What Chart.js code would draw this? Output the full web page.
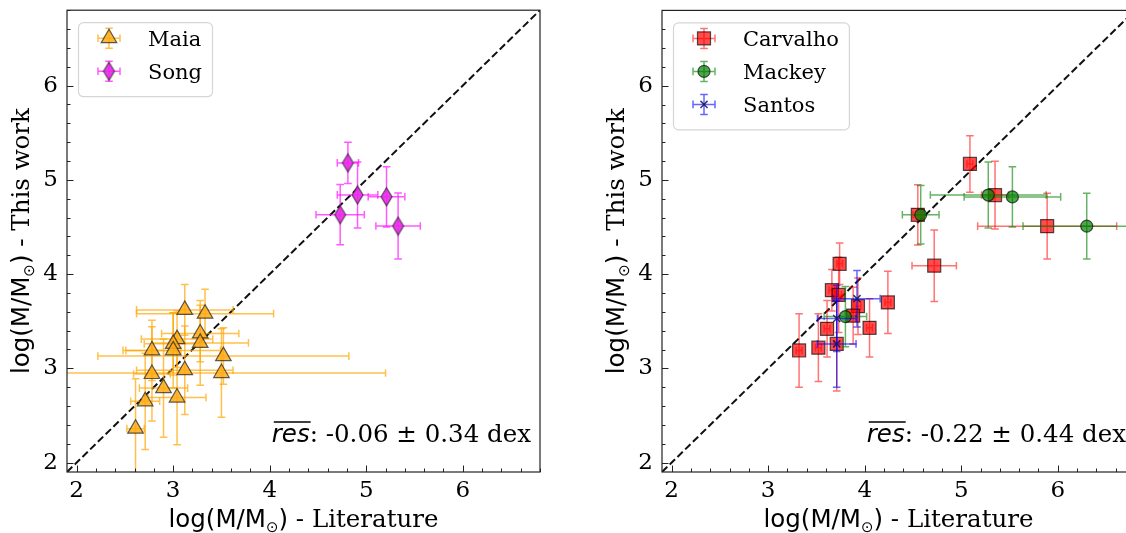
<!DOCTYPE html>
<html>
<head>
<meta charset="utf-8">
<script src="https://cdn.jsdelivr.net/npm/chart.js@4/dist/chart.umd.min.js"></script>
<style>
  html, body { margin: 0; padding: 0; background: #fff; overflow: hidden; width: 1126px; height: 533px; }
  .panel { position: absolute; top: 0; width: 560px; height: 533px; }
</style>
</head>
<body>
<div class="panel" style="left:0"><canvas id="leftChart" width="560" height="533"></canvas></div>
<div class="panel" style="left:595px"><canvas id="rightChart" width="560" height="533"></canvas></div>
<script>
// axis setup
const tickValues = [2, 3, 4, 5, 6];
const axisMin = 1.9, axisMax = 6.8;

// left panel: Maia
const maiaX    = [3.12, 3.33, 3.28, 3.28, 3.04, 3.00, 3.00, 2.78, 3.52, 2.78, 3.12, 3.50, 2.90, 2.71, 3.04, 2.61];
const maiaY    = [3.62, 3.58, 3.37, 3.27, 3.31, 3.26, 3.19, 3.19, 3.13, 2.94, 2.98, 2.95, 2.79, 2.65, 2.69, 2.36];
const maiaXerr = [0.50, 0.71, 0.40, 0.50, 0.37, 0.30, 0.49, 0.30, 1.30, 0.19, 0.50, 1.70, 0.25, 0.15, 0.30, 0.09];
const maiaYerr = [0.27, 0.26, 0.30, 0.45, 0.30, 0.33, 0.40, 0.32, 0.30, 0.50, 0.47, 0.47, 0.52, 0.51, 0.50, 0.53];

// left panel: Song
const songX    = [4.81, 4.91, 4.73, 5.21, 5.33];
const songY    = [5.18, 4.84, 4.63, 4.82, 4.51];
const songXerr = [0.11, 0.21, 0.25, 0.19, 0.23];
const songYerr = [0.22, 0.35, 0.32, 0.32, 0.35];

// right panel: Carvalho
const carvalhoX    = [5.09, 5.35, 4.55, 5.89, 4.72, 4.24, 3.74, 3.66, 3.73, 3.93, 3.88, 3.61, 4.05, 3.32, 3.52, 3.71];
const carvalhoY    = [5.17, 4.84, 4.63, 4.51, 4.09, 3.70, 4.11, 3.83, 3.78, 3.66, 3.56, 3.42, 3.43, 3.19, 3.22, 3.26];
const carvalhoXerr = [0.03, 0.14, 0.05, 0.72, 0.23, 0.03, 0.03, 0.03, 0.03, 0.03, 0.03, 0.03, 0.03, 0.03, 0.03, 0.03];
const carvalhoYerr = [0.30, 0.36, 0.32, 0.35, 0.38, 0.33, 0.22, 0.22, 0.40, 0.30, 0.30, 0.30, 0.31, 0.39, 0.36, 0.50];

// right panel: Mackey
const mackeyX    = [4.58, 5.28, 5.53, 6.30, 3.80];
const mackeyY    = [4.63, 4.84, 4.82, 4.51, 3.55];
const mackeyXerr = [0.19, 0.60, 0.50, 0.66, 0.22];
const mackeyYerr = [0.31, 0.35, 0.32, 0.35, 0.32];

// right panel: Santos
const santosX    = [3.92, 3.71, 3.71];
const santosY    = [3.74, 3.53, 3.26];
const santosXerr = [0.24, 0.20, 0.20];
const santosYerr = [0.30, 0.35, 0.46];

const leftRes = ': -0.06 \u00b1 0.34 dex';
const rightRes = ': -0.22 \u00b1 0.44 dex';

const SERIF = '"DejaVu Serif", serif';
const SANS = '"DejaVu Sans", sans-serif';

function pts(xs, ys) {
  return xs.map((x, i) => ({ x: x, y: ys[i] }));
}

// matplotlib-like thin diamond marker
function thinDiamond(fill, edge) {
  const c = document.createElement('canvas');
  c.width = 15; c.height = 21;
  const g = c.getContext('2d');
  g.beginPath();
  g.moveTo(7.5, 1.5); g.lineTo(13, 10.5); g.lineTo(7.5, 19.5); g.lineTo(2, 10.5);
  g.closePath();
  g.fillStyle = fill; g.fill();
  g.lineWidth = 1.2; g.strokeStyle = edge; g.stroke();
  return c;
}

function series(label, xs, ys, xerr, yerr, st) {
  return {
    type: 'scatter', label: label, data: pts(xs, ys),
    errX: xerr, errY: yerr, errColor: st.err,
    pointStyle: st.style, pointRadius: st.r, pointHoverRadius: st.r,
    backgroundColor: st.fill, borderColor: st.edge, borderWidth: st.bw || 1.2,
    order: st.order
  };
}

function drawBars(ctx, px, x0, x1, py, y0, y1, cap) {
  ctx.beginPath();
  ctx.moveTo(x0, py); ctx.lineTo(x1, py);
  ctx.moveTo(px, y0); ctx.lineTo(px, y1);
  ctx.moveTo(x0, py - cap); ctx.lineTo(x0, py + cap);
  ctx.moveTo(x1, py - cap); ctx.lineTo(x1, py + cap);
  ctx.moveTo(px - cap, y0); ctx.lineTo(px + cap, y0);
  ctx.moveTo(px - cap, y1); ctx.lineTo(px + cap, y1);
  ctx.stroke();
}

// error bars drawn just before each series' markers
const errorBars = {
  id: 'errorBars',
  beforeDatasetDraw(chart, args) {
    const ds = chart.data.datasets[args.index];
    if (!ds.errX) return;
    const ctx = chart.ctx, a = chart.chartArea;
    const xs = chart.scales.x, ys = chart.scales.y;
    ctx.save();
    ctx.beginPath(); ctx.rect(a.left, a.top, a.width, a.height); ctx.clip();
    ctx.strokeStyle = ds.errColor;
    ctx.lineWidth = 1.5;
    ds.data.forEach((p, i) => {
      drawBars(ctx,
        xs.getPixelForValue(p.x), xs.getPixelForValue(p.x - ds.errX[i]), xs.getPixelForValue(p.x + ds.errX[i]),
        ys.getPixelForValue(p.y), ys.getPixelForValue(p.y - ds.errY[i]), ys.getPixelForValue(p.y + ds.errY[i]), 3.8);
    });
    ctx.restore();
  }
};

// frame + inward ticks (left and bottom)
const frame = {
  id: 'frame',
  afterDatasetsDraw(chart) {
    const ctx = chart.ctx, a = chart.chartArea;
    const xs = chart.scales.x, ys = chart.scales.y;
    ctx.save();
    ctx.strokeStyle = '#222';
    ctx.lineWidth = 1.2;
    ctx.strokeRect(a.left, a.top, a.width, a.height);
    ctx.lineWidth = 1;
    ctx.beginPath();
    for (let k = 20; k <= 68; k += 2) {
      const v = k / 10;
      const len = (k % 10 === 0) ? 6.5 : 3.5;
      const px = Math.round(xs.getPixelForValue(v)) + 0.5;
      const py = Math.round(ys.getPixelForValue(v)) + 0.5;
      ctx.moveTo(px, a.bottom); ctx.lineTo(px, a.bottom - len);
      ctx.moveTo(a.left, py); ctx.lineTo(a.left + len, py);
    }
    ctx.stroke();
    ctx.restore();
  }
};

function drawParts(ctx, parts, x, y, align) {
  let w = 0;
  parts.forEach(p => { ctx.font = p.font; p.w = ctx.measureText(p.t).width; w += p.w; });
  let cx = align === 'center' ? x - w / 2 : (align === 'right' ? x - w : x);
  ctx.textAlign = 'left';
  ctx.textBaseline = 'alphabetic';
  parts.forEach(p => {
    ctx.font = p.font;
    ctx.fillText(p.t, cx, y + (p.dy || 0));
    if (p.over) {
      ctx.beginPath();
      ctx.lineWidth = 1.4;
      ctx.moveTo(cx + 2, y - 20); ctx.lineTo(cx + p.w + 1, y - 20);
      ctx.stroke();
    }
    cx += p.w;
  });
}

function titleParts(tail) {
  return [
    { t: 'log(M/M', font: '24.5px ' + SANS },
    { t: '\u2299', font: '15px ' + SANS, dy: 5 },
    { t: ')', font: '24.5px ' + SANS },
    { t: ' - ' + tail, font: '24.5px ' + SERIF }
  ];
}

// axis titles, residual note and legend
const panelText = {
  id: 'panelText',
  afterDraw(chart, args, opts) {
    const ctx = chart.ctx, a = chart.chartArea;
    ctx.save();
    ctx.fillStyle = '#000';
    ctx.strokeStyle = '#000';
    drawParts(ctx, titleParts('Literature'), (a.left + a.right) / 2, 527, 'center');
    ctx.save();
    ctx.translate(29, (a.top + a.bottom) / 2);
    ctx.rotate(-Math.PI / 2);
    drawParts(ctx, titleParts('This work'), 0, 0, 'center');
    ctx.restore();
    drawParts(ctx, [
      { t: 'res', font: 'italic 24.5px ' + SANS, over: true },
      { t: opts.res, font: '24.5px ' + SERIF }
    ], a.right - 9, a.bottom - 30, 'right');

    // legend
    const sets = chart.data.datasets.filter(d => d.errX);
    ctx.font = '21px ' + SERIF;
    const tw = Math.max(...sets.map(d => ctx.measureText(d.label).width));
    const bx = a.left + 11, by = a.top + 12;
    const bw = 72 + tw + 8, bh = 8 + sets.length * 33;
    ctx.beginPath();
    ctx.roundRect(bx + 0.5, by + 0.5, bw, bh, 5);
    ctx.fillStyle = 'rgba(255,255,255,0.8)';
    ctx.fill();
    ctx.strokeStyle = '#d6d6d6';
    ctx.lineWidth = 1.2;
    ctx.stroke();
    sets.forEach((d, i) => {
      const cy = by + 16 + i * 33, mx = bx + 31;
      ctx.strokeStyle = d.errColor;
      ctx.lineWidth = 1.5;
      drawBars(ctx, mx, mx - 11, mx + 11, cy, cy + 10, cy - 10, 3.8);
      ctx.fillStyle = d.backgroundColor;
      ctx.strokeStyle = d.borderColor;
      ctx.lineWidth = d.borderWidth;
      Chart.helpers.drawPoint(ctx, { pointStyle: d.pointStyle, radius: d.pointRadius, rotation: 0, borderWidth: d.borderWidth }, mx, cy);
      ctx.fillStyle = '#000';
      ctx.font = '21px ' + SERIF;
      ctx.textAlign = 'left';
      ctx.textBaseline = 'alphabetic';
      ctx.fillText(d.label, bx + 70, cy + 8);
    });
    ctx.restore();
  }
};

function makeChart(id, sets, resText) {
  const refLine = {
    type: 'line', label: '1:1',
    data: [{ x: axisMin, y: axisMin }, { x: axisMax, y: axisMax }],
    borderColor: '#111', borderWidth: 2, borderDash: [7.4, 3.4],
    pointRadius: 0, order: 50
  };
  const tickOpts = { font: { family: SERIF, size: 23 }, color: '#000', autoSkip: false, maxRotation: 0 };
  return new Chart(document.getElementById(id), {
    type: 'scatter',
    data: { datasets: [refLine].concat(sets) },
    options: {
      responsive: false,
      animation: false,
      events: [],
      layout: { padding: { top: 7, right: 20, left: 0, bottom: 0 } },
      plugins: {
        legend: { display: false },
        tooltip: { enabled: false },
        panelText: { res: resText }
      },
      scales: {
        x: {
          type: 'linear', min: axisMin, max: axisMax,
          grid: { display: false, drawTicks: false },
          border: { display: false },
          afterBuildTicks: s => { s.ticks = tickValues.map(v => ({ value: v })); },
          afterFit: s => { s.height = 61; s.paddingLeft = 0; s.paddingRight = 0; },
          ticks: Object.assign({ padding: 5 }, tickOpts)
        },
        y: {
          type: 'linear', min: axisMin, max: axisMax,
          grid: { display: false, drawTicks: false },
          border: { display: false },
          afterBuildTicks: s => { s.ticks = tickValues.map(v => ({ value: v })); },
          afterFit: s => { s.width = 67; s.paddingTop = 0; s.paddingBottom = 0; },
          ticks: Object.assign({ padding: 9 }, tickOpts)
        }
      }
    },
    plugins: [errorBars, frame, panelText]
  });
}

makeChart('leftChart', [
  series('Maia', maiaX, maiaY, maiaXerr, maiaYerr, {
    err: 'rgba(255,165,0,0.7)', style: 'triangle', r: 9,
    fill: 'rgba(255,170,20,0.85)', edge: 'rgba(30,30,30,0.7)', order: 2
  }),
  series('Song', songX, songY, songXerr, songYerr, {
    err: 'rgba(255,0,255,0.65)',
    style: thinDiamond('rgba(235,40,235,0.9)', 'rgba(30,30,30,0.7)'), r: 7,
    fill: 'rgba(235,40,235,0.9)', edge: 'rgba(30,30,30,0.7)', order: 1
  })
], leftRes);

makeChart('rightChart', [
  series('Carvalho', carvalhoX, carvalhoY, carvalhoXerr, carvalhoYerr, {
    err: 'rgba(255,0,0,0.55)', style: 'rect', r: 9.2,
    fill: 'rgba(255,0,0,0.7)', edge: 'rgba(0,0,0,0.65)', order: 3
  }),
  series('Mackey', mackeyX, mackeyY, mackeyXerr, mackeyYerr, {
    err: 'rgba(0,128,0,0.6)', style: 'circle', r: 6,
    fill: 'rgba(0,128,0,0.7)', edge: 'rgba(0,0,0,0.65)', order: 2
  }),
  series('Santos', santosX, santosY, santosXerr, santosYerr, {
    err: 'rgba(0,0,255,0.6)', style: 'crossRot', r: 5,
    fill: 'rgba(0,0,200,0.8)', edge: 'rgba(20,20,90,0.85)', bw: 1.5, order: 1
  })
], rightRes);
</script>
</body>
</html>
